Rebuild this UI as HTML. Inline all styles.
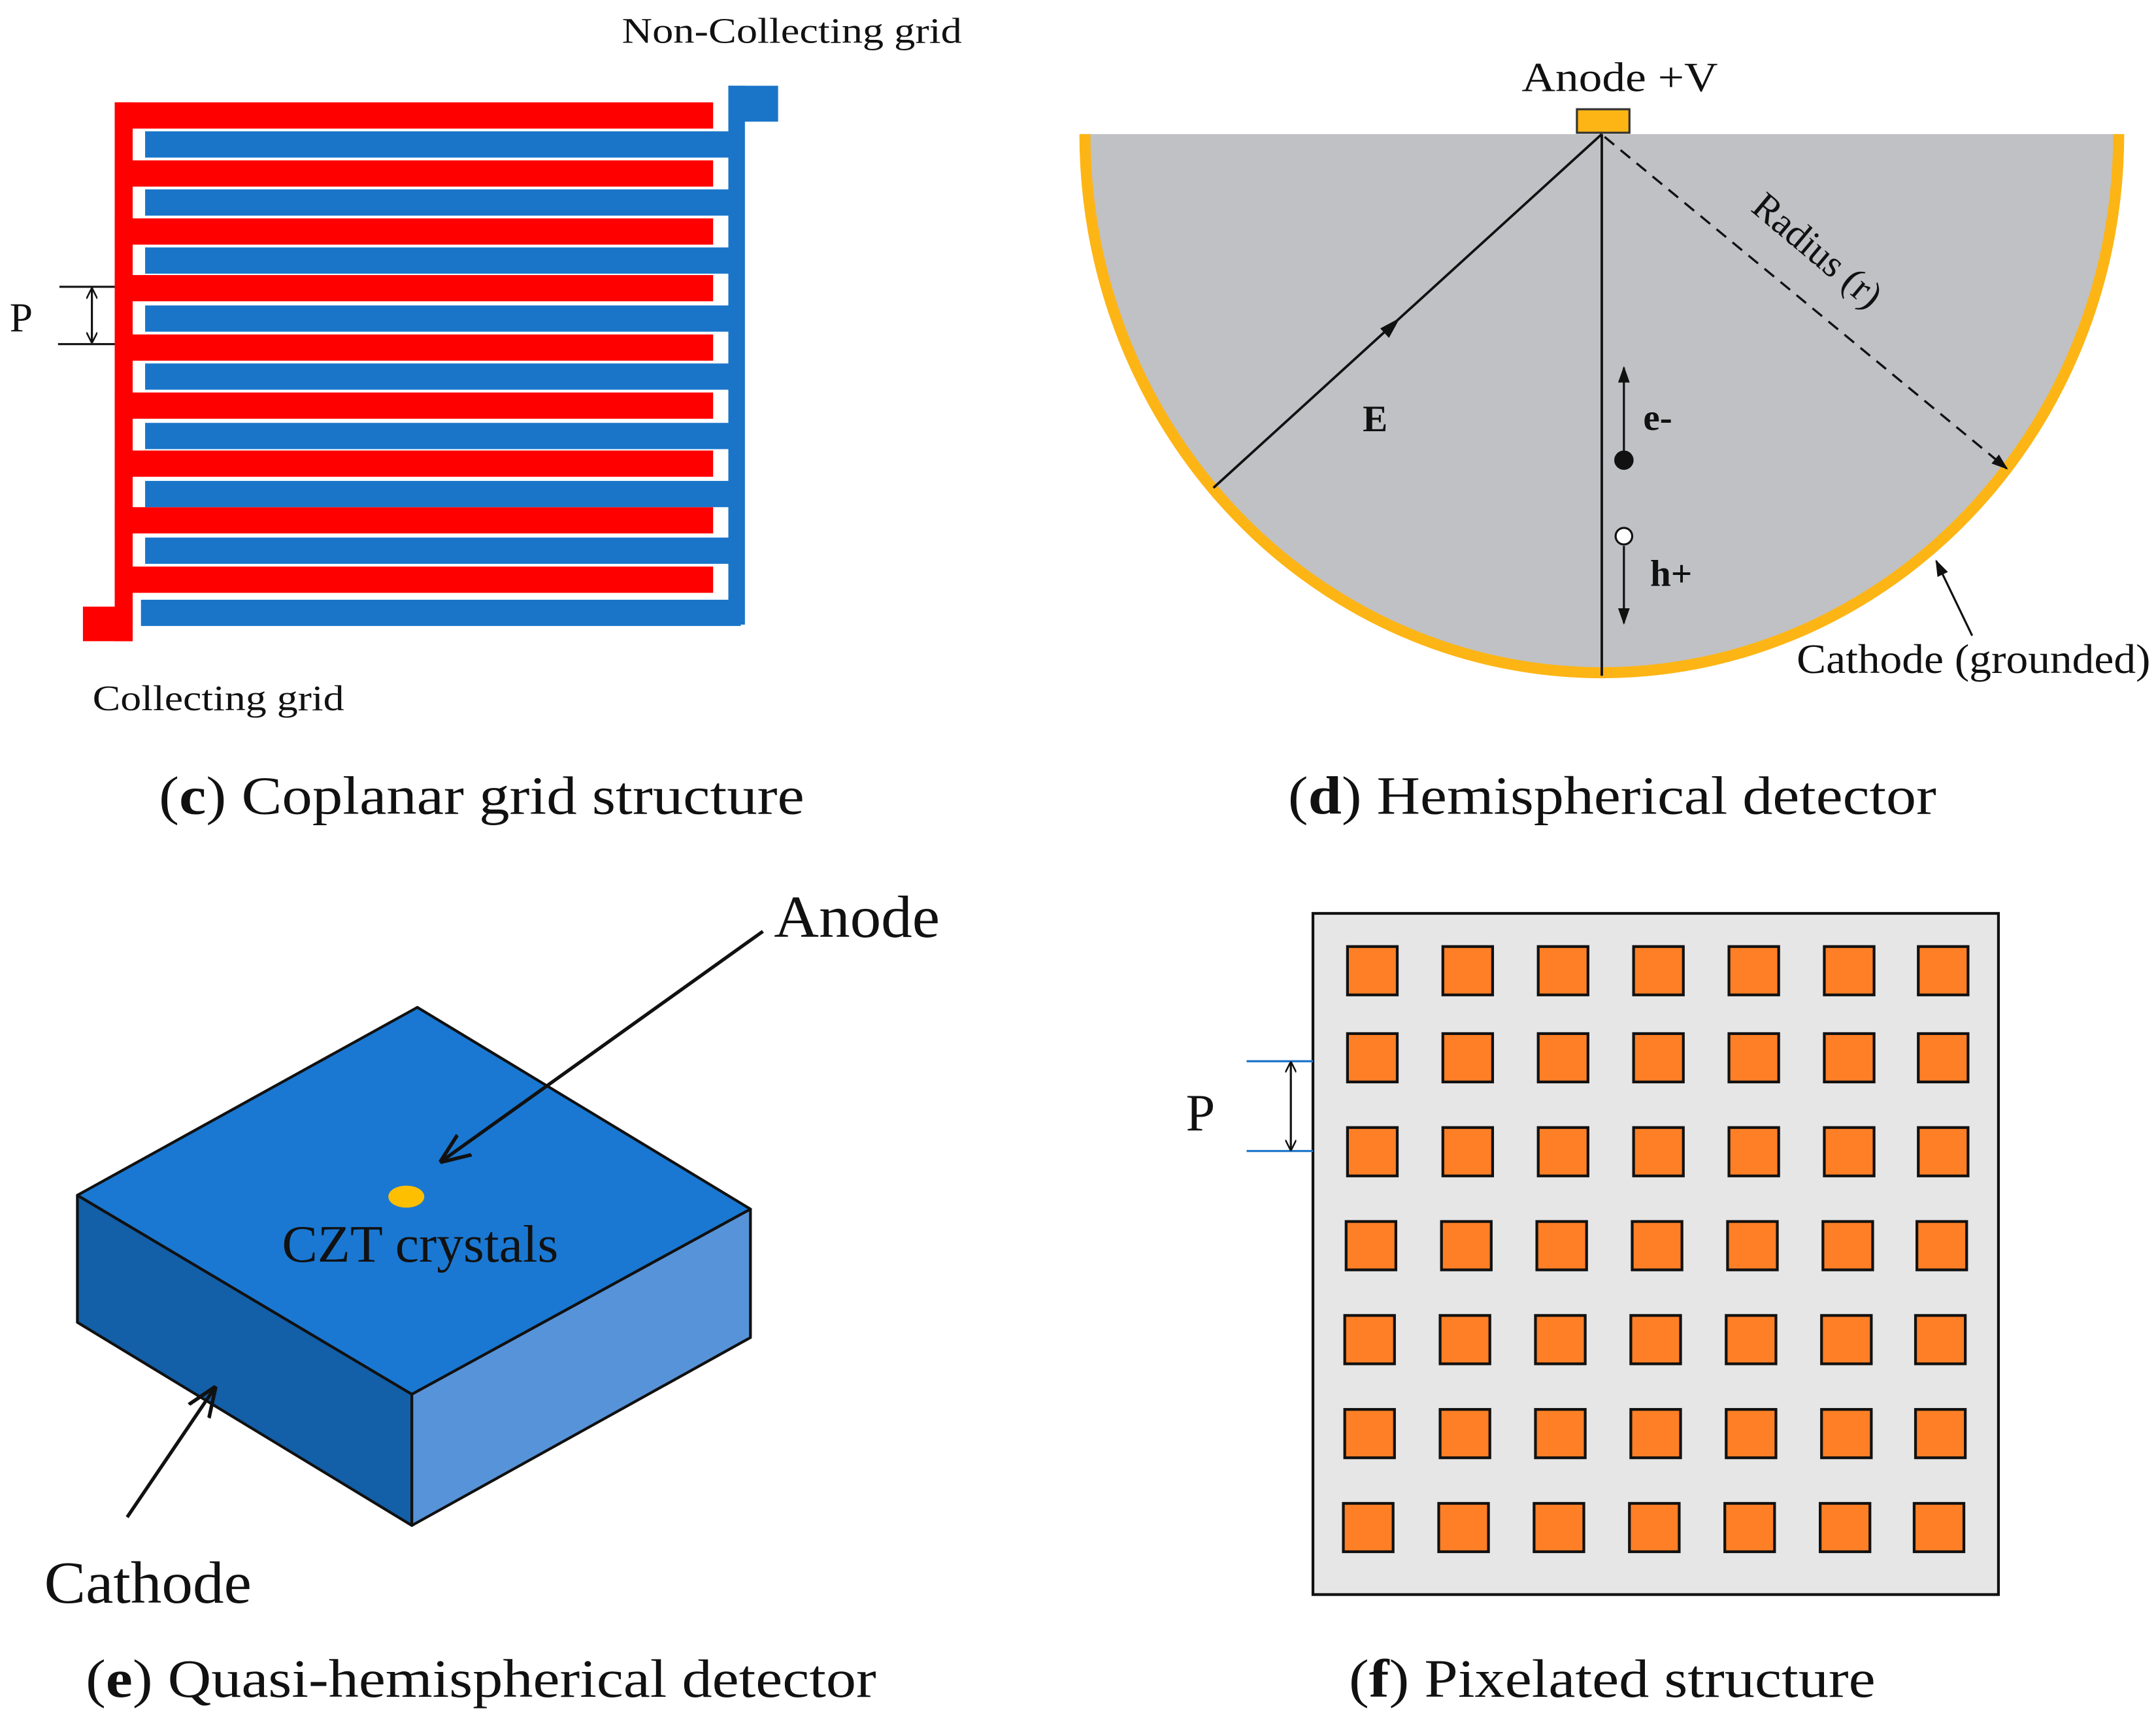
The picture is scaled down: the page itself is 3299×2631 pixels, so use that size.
<!DOCTYPE html>
<html><head><meta charset="utf-8"><style>
html,body{margin:0;padding:0;background:#fff}
svg{display:block}
text{font-family:"Liberation Serif",serif;fill:#111}
</style></head><body>
<svg width="3299" height="2631" viewBox="0 0 1560 1244" xmlns="http://www.w3.org/2000/svg">
<defs>
<marker id="ah" viewBox="0 0 10 10" refX="9" refY="5" markerWidth="8" markerHeight="8" orient="auto-start-reverse" markerUnits="userSpaceOnUse"><path d="M0,0 L10,5 L0,10" fill="none" stroke="#111" stroke-width="1.5"/></marker>
<marker id="af" viewBox="0 0 10 10" refX="9" refY="5" markerWidth="12" markerHeight="12" orient="auto" markerUnits="userSpaceOnUse"><path d="M0,1.5 L10,5 L0,8.5 Z" fill="#111"/></marker>
<marker id="ao" viewBox="0 0 10 10" refX="9" refY="5" markerWidth="22" markerHeight="22" orient="auto" markerUnits="userSpaceOnUse"><path d="M0,1 L10,5 L0,9" fill="none" stroke="#111" stroke-width="1.2"/></marker>
</defs>

<!-- (c) coplanar grid -->
<g fill="#ff0000">
<rect x="83" y="74" width="13" height="390"/>
<rect x="60" y="439" width="36" height="25"/>
<rect x="83" y="74" width="433" height="19"/>
<rect x="83" y="116" width="433" height="19"/>
<rect x="83" y="158" width="433" height="19"/>
<rect x="83" y="199" width="433" height="19"/>
<rect x="83" y="242" width="433" height="19"/>
<rect x="83" y="284" width="433" height="19"/>
<rect x="83" y="326" width="433" height="19"/>
<rect x="83" y="367" width="433" height="19"/>
<rect x="83" y="410" width="433" height="19"/>
</g>
<g fill="#1a75c9">
<rect x="527" y="62" width="12" height="390"/>
<rect x="527" y="62" width="36" height="26"/>
<rect x="105" y="95" width="430" height="19"/>
<rect x="105" y="137" width="430" height="19"/>
<rect x="105" y="179" width="430" height="19"/>
<rect x="105" y="221" width="430" height="19"/>
<rect x="105" y="263" width="430" height="19"/>
<rect x="105" y="306" width="430" height="19"/>
<rect x="105" y="348" width="430" height="19"/>
<rect x="105" y="389" width="430" height="19"/>
<rect x="102" y="434" width="434" height="19"/>
</g>
<line x1="43" y1="207.5" x2="83" y2="207.5" stroke="#111" stroke-width="1.5"/>
<line x1="42" y1="249" x2="83" y2="249" stroke="#111" stroke-width="1.5"/>
<line x1="66.5" y1="209" x2="66.5" y2="247.5" stroke="#111" stroke-width="1.5" marker-start="url(#ah)" marker-end="url(#ah)"/>
<text x="7" y="240" font-size="30">P</text>
<text x="450" y="31" font-size="26" textLength="246" lengthAdjust="spacingAndGlyphs">Non-Collecting grid</text>
<text x="67" y="514" font-size="26" textLength="182" lengthAdjust="spacingAndGlyphs">Collecting grid</text>
<text x="115" y="589" font-size="39" textLength="467" lengthAdjust="spacingAndGlyphs">(<tspan font-weight="bold">c</tspan>) Coplanar grid structure</text>

<!-- (d) hemispherical -->
<path d="M783,97 A376,392 0 0 0 1535,97 Z" fill="#c0c1c4"/>
<path d="M785,97 A374,390 0 0 0 1533,97" fill="none" stroke="#fdb515" stroke-width="8"/>
<rect x="1141" y="79" width="38" height="17" fill="#fdb515" stroke="#333" stroke-width="1.5"/>
<line x1="878" y1="353" x2="1159" y2="97" stroke="#111" stroke-width="1.8"/>
<polygon points="1013,230 998.7,237.6 1005,244.5" fill="#111"/>
<line x1="1159" y1="97" x2="1159" y2="489" stroke="#111" stroke-width="1.8"/>
<line x1="1161" y1="99" x2="1452" y2="339" stroke="#111" stroke-width="1.6" stroke-dasharray="9,6" marker-end="url(#af)"/>
<text transform="translate(1266,152) rotate(40)" font-size="28">Radius (r)</text>
<text x="986" y="312" font-size="27" font-weight="bold">E</text>
<line x1="1175" y1="326" x2="1175" y2="266" stroke="#111" stroke-width="1.5" marker-end="url(#af)"/>
<circle cx="1175" cy="333" r="7" fill="#111"/>
<text x="1189" y="311" font-size="27" font-weight="bold">e-</text>
<circle cx="1175" cy="388" r="6" fill="#fff" stroke="#111" stroke-width="1.5"/>
<line x1="1175" y1="395" x2="1175" y2="451" stroke="#111" stroke-width="1.5" marker-end="url(#af)"/>
<text x="1194" y="424" font-size="27" font-weight="bold">h+</text>
<line x1="1427" y1="460" x2="1401" y2="406" stroke="#111" stroke-width="1.5" marker-end="url(#af)"/>
<text x="1300" y="487" font-size="30" textLength="256" lengthAdjust="spacingAndGlyphs">Cathode (grounded)</text>
<text x="1101" y="66" font-size="30" textLength="142" lengthAdjust="spacingAndGlyphs">Anode  +V</text>
<text x="932" y="589" font-size="39" textLength="469" lengthAdjust="spacingAndGlyphs">(<tspan font-weight="bold">d</tspan>) Hemispherical detector</text>

<!-- (e) quasi-hemispherical -->
<g stroke="#111" stroke-width="2" stroke-linejoin="round">
<path d="M56,865 L298,1009 L298,1104 L56,957 Z" fill="#135fa8"/>
<path d="M298,1009 L543,875 L543,968 L298,1104 Z" fill="#5793d8"/>
<path d="M302,729 L543,875 L298,1009 L56,865 Z" fill="#1a78d2"/>
</g>
<ellipse cx="294" cy="866" rx="13" ry="8" fill="#fdbf00"/>
<text x="204" y="913" font-size="38" textLength="200" lengthAdjust="spacingAndGlyphs">CZT crystals</text>
<line x1="552" y1="674" x2="320" y2="840" stroke="#111" stroke-width="2.5" marker-end="url(#ao)"/>
<line x1="92" y1="1098" x2="155" y2="1005" stroke="#111" stroke-width="2.5" marker-end="url(#ao)"/>
<text x="560" y="678" font-size="43" textLength="120" lengthAdjust="spacingAndGlyphs">Anode</text>
<text x="32" y="1160" font-size="43" textLength="150" lengthAdjust="spacingAndGlyphs">Cathode</text>
<text x="62" y="1228" font-size="39" textLength="572" lengthAdjust="spacingAndGlyphs">(<tspan font-weight="bold">e</tspan>) Quasi-hemispherical detector</text>

<!-- (f) pixelated -->
<rect x="950" y="661" width="496" height="493" fill="#e6e6e6" stroke="#111" stroke-width="2"/>
<g fill="#fe7f25" stroke="#111" stroke-width="2">
<g id="row">
<rect x="975" y="685" width="36" height="35"/><rect x="1044" y="685" width="36" height="35"/><rect x="1113" y="685" width="36" height="35"/><rect x="1182" y="685" width="36" height="35"/><rect x="1251" y="685" width="36" height="35"/><rect x="1320" y="685" width="36" height="35"/><rect x="1388" y="685" width="36" height="35"/>
</g>
<use href="#row" transform="translate(0,63)"/>
<use href="#row" transform="translate(0,131)"/>
<use href="#row" transform="translate(-1,199)"/>
<use href="#row" transform="translate(-2,267)"/>
<use href="#row" transform="translate(-2,335)"/>
<use href="#row" transform="translate(-3,403)"/>
</g>
<line x1="902" y1="768" x2="950" y2="768" stroke="#1a75c9" stroke-width="1.5"/>
<line x1="902" y1="833" x2="950" y2="833" stroke="#1a75c9" stroke-width="1.5"/>
<line x1="934" y1="769" x2="934" y2="832" stroke="#111" stroke-width="1.5" marker-start="url(#ah)" marker-end="url(#ah)"/>
<text x="858" y="818" font-size="38">P</text>
<text x="976" y="1228" font-size="39" textLength="381" lengthAdjust="spacingAndGlyphs">(<tspan font-weight="bold">f</tspan>) Pixelated structure</text>
</svg>
</body></html>
